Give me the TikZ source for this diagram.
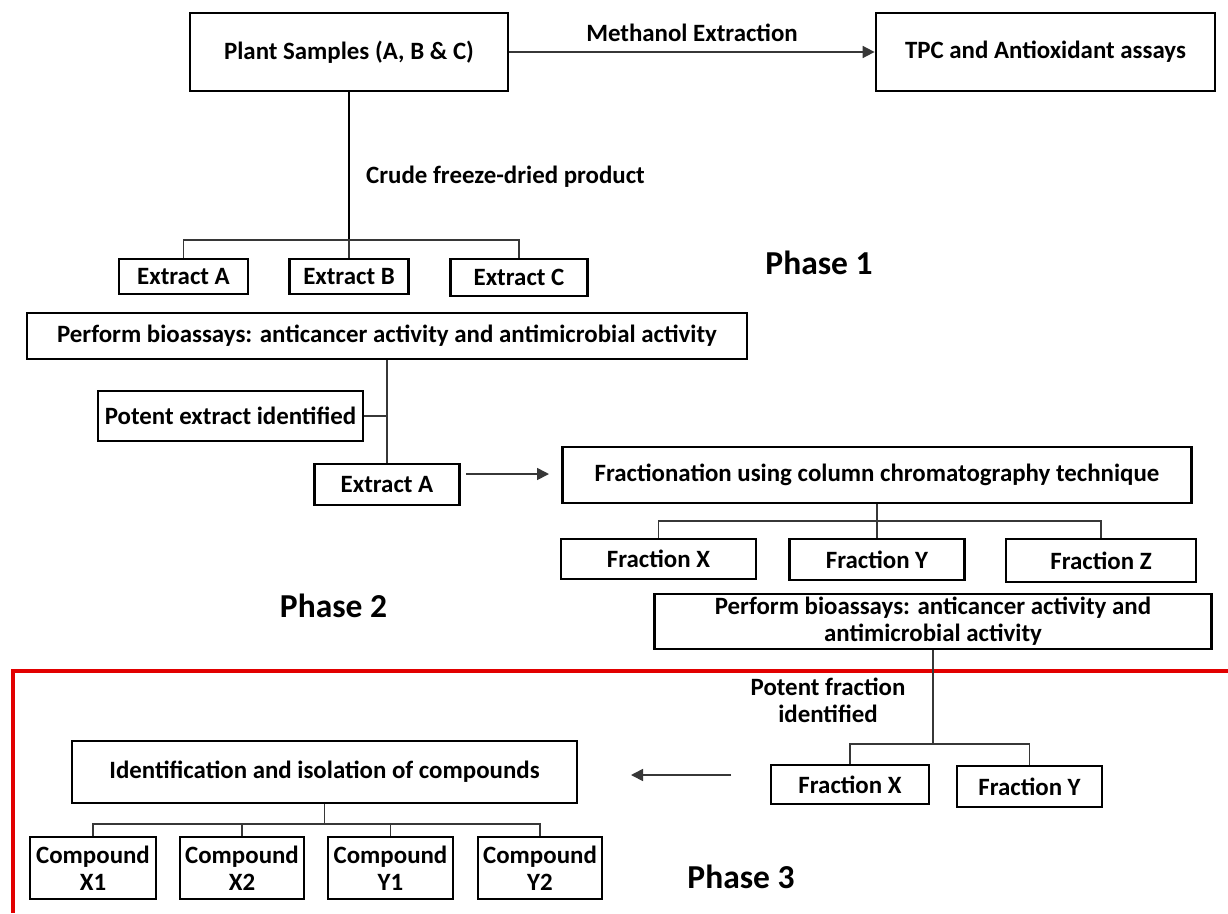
\documentclass[tikz,border=0pt]{standalone}
\usepackage{fontspec}
\setmainfont{Carlito}
\usetikzlibrary{arrows.meta}
\definecolor{redline}{RGB}{226,0,0}
\definecolor{connc}{RGB}{55,55,55}
\tikzset{
  box/.style={draw=black, line width=2.8pt, inner sep=0pt, font=\fontsize{24.9}{27}\selectfont\bfseries, align=center},
  lbl/.style={inner sep=0pt, font=\fontsize{24.9}{27}\selectfont\bfseries, align=center},
  phase/.style={inner sep=0pt, font=\fontsize{33.5}{36}\selectfont\bfseries},
  conn/.style={draw=connc, line width=1.7pt},
  arr/.style={conn, -{Triangle[length=12pt,width=12pt]}},
  redframe/.style={draw=redline, line width=4pt, line join=miter},
}
\newcommand\bx[6]{\node[box, minimum width=#4pt, minimum height=#5pt] (#1) at (#2,#3) {#6};}
\begin{document}
\begin{tikzpicture}[x=1pt,y=-1pt]
\useasboundingbox[fill=white] (0,0) rectangle (1228,913);

% Phase 1
\bx{plant}{349}{52}{318}{78}{Plant Samples (A, B \& C)}
\bx{tpc}{1045.5}{52}{339}{78}{TPC and Antioxidant assays}
\bx{exA}{183.5}{276.5}{129}{35}{Extract A}
\bx{exB}{349}{276.5}{119}{35}{Extract B}
\bx{exC}{519}{277.5}{137}{37}{Extract C}
\draw[arr] (plant.east) -- node[lbl, above=9pt] (meth) {Methanol Extraction} (tpc.west);
\coordinate (b1) at (349,240);
\draw[conn, line width=2.2pt, draw=black] (plant.south) -- (b1);
\draw[conn] (exA.north) |- (b1) -| (exC.north);
\draw[conn] (b1) -- (exB.north);
\node[lbl, anchor=west] (crude) at (366,177) {Crude freeze-dried product};
\node[phase] (ph1) at (819,263) {Phase 1};

% Phase 2
\bx{bio1}{387}{336}{720}{46}{Perform bioassays: anticancer activity and antimicrobial activity}
\bx{potent}{230.5}{416}{265}{50}{Potent extract identified}
\bx{exA2}{387}{484.5}{145}{41}{Extract A}
\draw[conn] (bio1.south) -- (exA2.north);
\draw[conn] (potent.east) -- (potent.east -| bio1.south);
\bx{frac}{877}{475}{629}{56}{Fractionation using column chromatography technique}
\coordinate (a1s) at (466,474);
\coordinate (a1e) at (549,474);
\draw[arr] (a1s) -- (a1e);
\bx{fX}{658.5}{559}{195}{40}{Fraction X}
\bx{fY}{877}{559.5}{175}{41}{Fraction Y}
\bx{fZ}{1101}{560.5}{190}{43}{Fraction Z}
\coordinate (b2) at (877,521);
\draw[conn] (frac.south) -- (fY.north);
\draw[conn] (fX.north) |- (b2) -| (fZ.north);
\bx{bio2}{933}{621.5}{557}{55}{Perform bioassays: anticancer activity and\\antimicrobial activity}
\node[phase] (ph2) at (333.5,606) {Phase 2};

% Phase 3 frame
\draw[redframe] (13,913) -- (13,670.5) -- (1228,670.5);

\bx{fX2}{850}{784.5}{158}{39}{Fraction X}
\bx{fY2}{1029.5}{786.5}{145}{41}{Fraction Y}
\coordinate (b3) at (933,744);
\draw[conn] (bio2.south) -- (b3);
\draw[conn] (fX2.north) |- (b3) -| (fY2.north);
\node[lbl] (pfi) at (828,700) {Potent fraction\\identified};
\coordinate (a2s) at (731,775);
\coordinate (a2e) at (631,775);
\draw[arr] (a2s) -- (a2e);
\bx{ident}{324.5}{772}{505}{62}{Identification and isolation of compounds}
\bx{cX1}{93}{868}{126}{62}{Compound\\X1}
\bx{cX2}{242}{868}{124}{62}{Compound\\X2}
\bx{cY1}{390.5}{868}{125}{62}{Compound\\Y1}
\bx{cY2}{540}{868}{124}{62}{Compound\\Y2}
\coordinate (b4) at (324.5,824);
\draw[conn] (ident.south) -- (b4);
\draw[conn] (cX1.north) |- (b4) -| (cY2.north);
\draw[conn] (cX2.north) -- (cX2.north |- b4);
\draw[conn] (cY1.north) -- (cY1.north |- b4);
\node[phase] (ph3) at (741,877) {Phase 3};
\end{tikzpicture}
\end{document}
